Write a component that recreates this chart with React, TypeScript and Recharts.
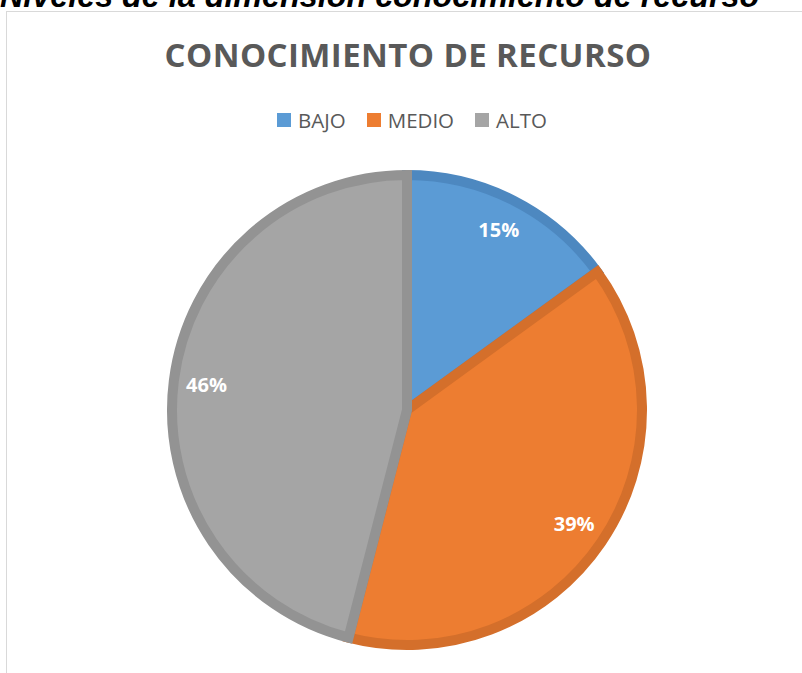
import { PieChart, Pie, Cell, Legend } from 'recharts';

// values
const categories = ['BAJO', 'MEDIO', 'ALTO'];
const percentages = [15, 39, 46];
const fills = ['#5B9BD5', '#ED7D31', '#A5A5A5'];
const borders = ['#4D88C0', '#D46F2B', '#939393'];

const chartData = categories.map((name, i) => ({ name, value: percentages[i] }));

const RADIAN = Math.PI / 180;

// labels sit a bit inside the outer edge, like Excel's "inside end"
const renderLabel = (props: any) => {
  const { cx, cy, midAngle, outerRadius, value } = props;
  const r = outerRadius * 0.86;
  const x = cx + r * Math.cos(-midAngle * RADIAN);
  const y = cy + r * Math.sin(-midAngle * RADIAN);
  return (
    <text
      x={x}
      y={y}
      fill="#ffffff"
      textAnchor="middle"
      dominantBaseline="central"
      style={{ fontFamily: '"Open Sans", sans-serif', fontWeight: 700, fontSize: 20 }}
    >
      {`${value}%`}
    </text>
  );
};

const renderLegend = () => (
  <div
    style={{
      display: 'flex',
      justifyContent: 'center',
      alignItems: 'center',
      gap: 21,
      fontFamily: '"Open Sans", sans-serif',
      fontSize: 20.5,
      color: '#595959',
      lineHeight: '24px'
    }}
  >
    {categories.map((name, i) => (
      <span key={name} style={{ display: 'flex', alignItems: 'center' }}>
        <span
          style={{
            display: 'inline-block',
            width: 14,
            height: 14,
            marginRight: 7,
            backgroundColor: fills[i]
          }}
        />
        {name}
      </span>
    ))}
  </div>
);

export default function App() {
  return (
    <div
      style={{
        position: 'absolute',
        left: 0,
        top: 0,
        width: 802,
        height: 673,
        overflow: 'hidden',
        background: '#ffffff'
      }}
    >
      {/* chart area frame, runs off the right and bottom edges */}
      <div
        style={{
          position: 'absolute',
          left: 6,
          top: 11,
          width: 900,
          height: 800,
          border: '1.5px solid #d9d9d9'
        }}
      />
      <svg width={802} height={673} style={{ position: 'absolute', left: 0, top: 0 }}>
        <text
          x={0}
          y={7}
          fill="#000000"
          style={{
            fontFamily: '"Liberation Sans", Arial, sans-serif',
            fontWeight: 700,
            fontStyle: 'italic',
            fontSize: 32.3
          }}
        >
          Niveles de la dimensión conocimiento de recurso
        </text>
        <text
          x={408}
          y={67}
          textAnchor="middle"
          fill="#595959"
          style={{
            fontFamily: '"Open Sans", sans-serif',
            fontWeight: 700,
            fontSize: 33,
            letterSpacing: 0.4
          }}
        >
          CONOCIMIENTO DE RECURSO
        </text>
      </svg>
      <div style={{ position: 'absolute', left: 0, top: 0 }}>
        <PieChart width={802} height={673} margin={{ top: 0, right: 0, bottom: 0, left: 0 }}>
          <Legend
            content={renderLegend}
            wrapperStyle={{ position: 'absolute', top: 108, left: 11, width: 802 }}
          />
          <Pie
            data={chartData}
            dataKey="value"
            nameKey="name"
            cx={407}
            cy={410}
            outerRadius={235}
            startAngle={90}
            endAngle={-270}
            strokeWidth={10}
            label={renderLabel}
            labelLine={false}
            isAnimationActive={false}
          >
            {chartData.map((entry, i) => (
              <Cell key={entry.name} fill={fills[i]} stroke={borders[i]} />
            ))}
          </Pie>
        </PieChart>
      </div>
    </div>
  );
}
